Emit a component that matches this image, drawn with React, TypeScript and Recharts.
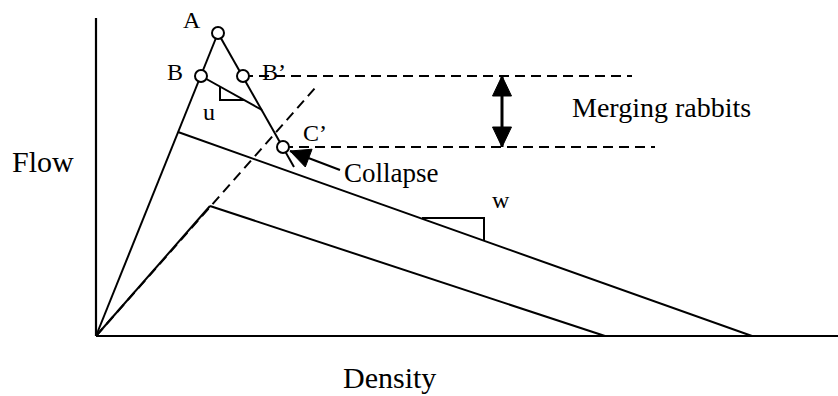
import React from 'react';
import { ComposedChart, Line, Scatter, XAxis, YAxis, ReferenceLine, ReferenceDot } from 'recharts';

// ---- data (density on x, flow on y; schematic units) ----
const densityDomain: [number, number] = [0, 742];
const flowDomain: [number, number] = [0, 318];

const freeFlow = [{ x: 0, y: 0 }, { x: 122, y: 303 }];
const collapseBranch = [{ x: 122, y: 303 }, { x: 198, y: 169 }];
const capacityDrop = [{ x: 105, y: 260 }, { x: 166, y: 226 }];
const uTriangle = [{ x: 124, y: 250 }, { x: 124, y: 236 }, { x: 148, y: 236 }];
const upperCongested = [{ x: 82, y: 204 }, { x: 656, y: 0 }];
const wTriangle = [{ x: 326, y: 118 }, { x: 388, y: 118 }, { x: 388, y: 95 }];
const reducedFreeFlowSolid = [{ x: 0, y: 0 }, { x: 114, y: 130 }];
const reducedFreeFlowDashed = [{ x: 0, y: 0 }, { x: 220, y: 249 }];
const lowerCongested = [{ x: 114, y: 130 }, { x: 509, y: 0 }];
const bPrimeLevel = [{ x: 147, y: 260 }, { x: 536, y: 260 }];
const cPrimeLevel = [{ x: 187, y: 189 }, { x: 559, y: 189 }];
const mergingArrow = [{ x: 406, y: 189 }, { x: 406, y: 260 }];
const collapseArrow = [{ x: 244, y: 166 }, { x: 194, y: 185 }];

const statePoints = [
  { name: 'A', x: 122, y: 303 },
  { name: 'B', x: 105, y: 260 },
  { name: "B'", x: 147, y: 260 },
  { name: "C'", x: 187, y: 189 },
];

const pointLabels = [
  { text: 'A', x: 87, y: 308 },
  { text: 'B', x: 71, y: 256 },
  { text: 'B\u2019', x: 166, y: 256 },
  { text: 'C\u2019', x: 207, y: 195 },
  { text: 'u', x: 107, y: 216 },
  { text: 'w', x: 396, y: 128 },
];
const noteLabels = [
  { text: 'Merging rabbits', x: 476, y: 219 },
  { text: 'Collapse', x: 248, y: 154 },
];
const axisTitles = [
  { text: 'Flow', x: -84, y: 164 },
  { text: 'Density', x: 247, y: -52 },
];

// ---- layout ----
const W = 838;
const H = 396;
const M = { top: 18, right: 0, bottom: 60, left: 96 };
const kx = (W - M.left - M.right) / (densityDomain[1] - densityDomain[0]);
const ky = (H - M.top - M.bottom) / (flowDomain[1] - flowDomain[0]);
const FONT = "'Liberation Serif', 'Times New Roman', serif";
const HEAD_L = 20;
const HEAD_W = 19;

type P = { x: number; y: number };

function arrowDot(data: P[], both: boolean) {
  return (props: any) => {
    const { cx, cy, index } = props;
    const last = data.length - 1;
    if (index !== last && !(both && index === 0)) return <g key={`n${index}`} />;
    const self = data[index];
    const other = index === 0 ? data[1] : data[last - 1];
    let ux = (self.x - other.x) * kx;
    let uy = -(self.y - other.y) * ky;
    const len = Math.hypot(ux, uy) || 1;
    ux /= len;
    uy /= len;
    const bx = cx - ux * HEAD_L;
    const by = cy - uy * HEAD_L;
    const px = -uy * (HEAD_W / 2);
    const py = ux * (HEAD_W / 2);
    const pts = `${cx},${cy} ${bx + px},${by + py} ${bx - px},${by - py}`;
    return <polygon key={`h${index}`} points={pts} fill="#000" stroke="#000" strokeWidth={1} />;
  };
}

const lineProps = {
  dataKey: 'y',
  type: 'linear' as const,
  stroke: '#000',
  strokeWidth: 2,
  dot: false,
  activeDot: false,
  isAnimationActive: false,
  legendType: 'none' as const,
};

const textShape = (text: string, size: number) => (p: any) => (
  <text x={p.cx} y={p.cy} fontSize={size} fontFamily={FONT} fill="#000" textAnchor="start">
    {text}
  </text>
);

export default function App() {
  return (
    <div style={{ position: 'absolute', left: 0, top: 0, width: W, height: H, background: '#fff' }}>
      <ComposedChart width={W} height={H} margin={M}>
        <XAxis type="number" dataKey="x" domain={densityDomain} hide />
        <YAxis type="number" dataKey="y" domain={flowDomain} hide />
        <ReferenceLine x={0} stroke="#000" strokeWidth={2.2} />
        <ReferenceLine y={0} stroke="#000" strokeWidth={2.2} />

        <Line {...lineProps} data={reducedFreeFlowDashed} strokeDasharray="10 6" />
        <Line {...lineProps} data={reducedFreeFlowSolid} />
        <Line {...lineProps} data={lowerCongested} />
        <Line {...lineProps} data={freeFlow} />
        <Line {...lineProps} data={upperCongested} />
        <Line {...lineProps} data={collapseBranch} />
        <Line {...lineProps} data={capacityDrop} />
        <Line {...lineProps} data={uTriangle} />
        <Line {...lineProps} data={wTriangle} />
        <Line {...lineProps} data={bPrimeLevel} strokeDasharray="10 6" />
        <Line {...lineProps} data={cPrimeLevel} strokeDasharray="10 6" />
        <Line {...lineProps} data={mergingArrow} strokeWidth={3} dot={arrowDot(mergingArrow, true)} />
        <Line {...lineProps} data={collapseArrow} dot={arrowDot(collapseArrow, false)} />

        <Scatter
          data={statePoints}
          dataKey="y"
          isAnimationActive={false}
          shape={(p: any) => <circle cx={p.cx} cy={p.cy} r={6} fill="#fff" stroke="#000" strokeWidth={2} />}
        />

        {pointLabels.map((l) => (
          <ReferenceDot key={l.text} x={l.x} y={l.y} ifOverflow="visible" shape={textShape(l.text, 24)} />
        ))}
        {noteLabels.map((l, i) => (
          <ReferenceDot key={l.text} x={l.x} y={l.y} ifOverflow="visible" shape={textShape(l.text, i === 0 ? 28 : 27)} />
        ))}
        {axisTitles.map((l) => (
          <ReferenceDot key={l.text} x={l.x} y={l.y} ifOverflow="visible" shape={textShape(l.text, 30)} />
        ))}
      </ComposedChart>
    </div>
  );
}
